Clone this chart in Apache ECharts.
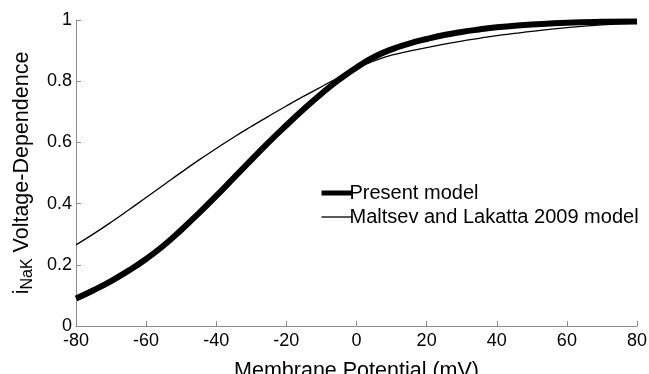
<!DOCTYPE html>
<html>
<head>
<meta charset="utf-8">
<script src="https://cdn.jsdelivr.net/npm/echarts@6/dist/echarts.min.js"></script>
<style>
  html, body { margin: 0; padding: 0; background: #fff; }
  #chart { width: 649px; height: 374px; }
</style>
</head>
<body>
<div id="chart"></div>
<script>
// membrane potential (mV)
const voltages = [-80, -75, -70, -65, -60, -55, -50, -45, -40, -35, -30, -25, -20, -15, -10, -5,
  0, 5, 10, 15, 20, 25, 30, 35, 40, 45, 50, 60, 70, 80]
// present model (thick)
const presentModel = [0.09, 0.117, 0.147, 0.181, 0.219, 0.263, 0.314, 0.368, 0.425, 0.484, 0.543, 0.601, 0.656,
  0.709, 0.759, 0.805, 0.845, 0.879, 0.904, 0.923, 0.938, 0.951, 0.961, 0.969, 0.976, 0.981, 0.985, 0.991, 0.994, 0.995]
// Maltsev and Lakatta 2009 model (thin)
const maltsevModel = [0.265, 0.301, 0.339, 0.379, 0.42, 0.461, 0.502, 0.542, 0.58, 0.617, 0.652, 0.686, 0.719,
  0.751, 0.782, 0.813, 0.843, 0.866, 0.885, 0.898, 0.91, 0.921, 0.931, 0.94, 0.949, 0.956, 0.963, 0.975, 0.984, 0.99]
const seriesNames = ['Present model', 'Maltsev and Lakatta 2009 model']

const toPairs = ys => voltages.map((v, i) => [v, ys[i]])

const chart = echarts.init(document.getElementById('chart'))
const axisGray = '#8c8c8c'
const font = 'Liberation Sans, Arial, sans-serif'

chart.setOption({
  animation: false,
  textStyle: { fontFamily: font },
  grid: { left: 76, right: 12, top: 20, bottom: 48, outerBoundsMode: 'none', containLabel: false },
  legend: {
    orient: 'vertical',
    left: 314,
    top: 178,
    itemWidth: 31,
    itemHeight: 10,
    itemGap: 4,
    itemStyle: { opacity: 0 },
    data: [
      { name: seriesNames[0], lineStyle: { width: 5, color: '#000', opacity: 1 } },
      { name: seriesNames[1], lineStyle: { width: 1.3, color: '#000', opacity: 1 } },
    ],
    textStyle: { fontSize: 20, color: '#000', fontFamily: font, padding: [0, 0, 0, -8] },
  },
  xAxis: {
    type: 'value',
    min: -80,
    max: 80,
    interval: 20,
    name: 'Membrane Potential (mV)',
    nameLocation: 'middle',
    nameMoveOverlap: false,
    nameGap: 34,
    nameTextStyle: { fontSize: 21.5, color: '#000', fontFamily: font },
    splitLine: { show: false },
    axisLine: { onZero: false, lineStyle: { color: axisGray, width: 1 } },
    axisTick: { inside: true, length: 5, lineStyle: { color: axisGray } },
    axisLabel: { fontSize: 18, color: '#000', margin: 6 },
  },
  yAxis: {
    type: 'value',
    min: 0,
    max: 1,
    interval: 0.2,
    name: '{m|i}{s|NaK}{m| Voltage-Dependence}',
    nameLocation: 'middle',
    nameRotate: 90,
    nameGap: 31,
    nameTextStyle: {
      fontSize: 21.5,
      color: '#000',
      fontFamily: font,
      rich: {
        m: { fontSize: 21.5, lineHeight: 22, verticalAlign: 'top', color: '#000', fontFamily: font },
        s: { fontSize: 16, lineHeight: 16, verticalAlign: 'top', padding: [9, 0, 0, 0], color: '#000', fontFamily: font },
      },
    },
    splitLine: { show: false },
    axisLine: { show: true, onZero: false, lineStyle: { color: axisGray, width: 1 } },
    axisTick: { show: true, inside: true, length: 5, lineStyle: { color: axisGray } },
    axisLabel: { fontSize: 18, color: '#000', margin: 4 },
  },
  series: [
    {
      name: seriesNames[0],
      type: 'line',
      data: toPairs(presentModel),
      smooth: true,
      symbol: 'none',
      lineStyle: { color: '#000', width: 6 },
      itemStyle: { color: '#000' },
    },
    {
      name: seriesNames[1],
      type: 'line',
      data: toPairs(maltsevModel),
      smooth: true,
      symbol: 'none',
      lineStyle: { color: '#000', width: 1.3 },
      itemStyle: { color: '#000' },
    },
  ],
})
</script>
</body>
</html>
